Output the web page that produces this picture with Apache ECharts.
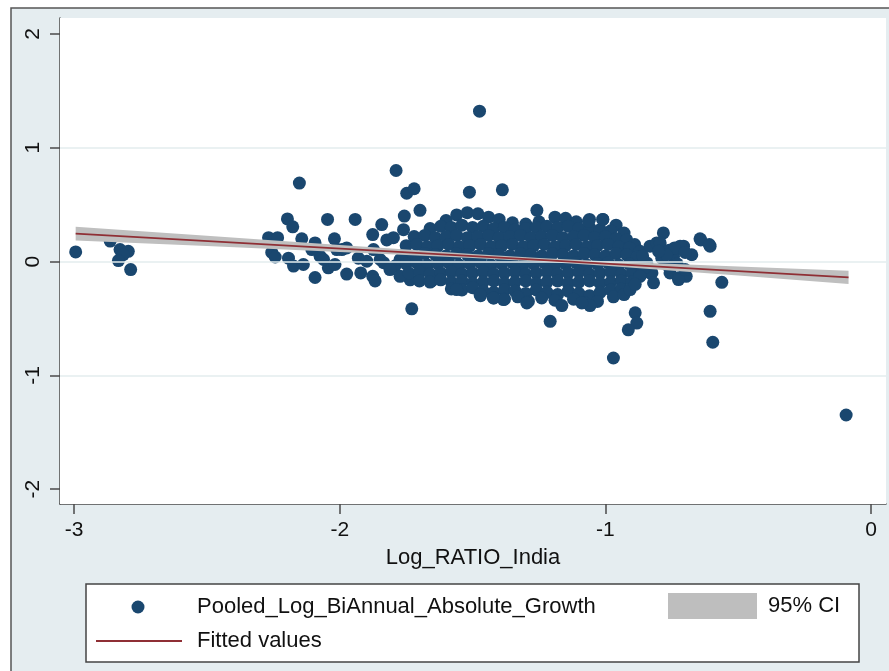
<!DOCTYPE html>
<html>
<head>
<meta charset="utf-8">
<script src="https://cdn.jsdelivr.net/npm/echarts@6/dist/echarts.min.js"></script>
<style>
html,body{margin:0;padding:0;background:#fff;}
#c{width:889px;height:671px;}
</style>
</head>
<body>
<div id="c"></div>
<script>
// ---- data ----
const xTicks = [-3, -2, -1, 0];
const yTicks = [-2, -1, 0, 1, 2];
const yGrid = [-1, 0, 1];

const farLeft = [[-2.994,0.085],[-2.864,0.18],[-2.827,0.105],[-2.796,0.09],[-2.815,0.06],[-2.833,0.009],[-2.787,-0.07]];

const leftScatter = [[-2.268,0.21],[-2.234,0.21],[-2.256,0.08],[-2.243,0.04],[-2.197,0.375],[-2.177,0.305],[-2.152,0.69],
[-2.143,0.20],[-2.093,0.164],[-2.193,0.03],[-2.174,-0.04],[-2.137,-0.026],[-2.074,0.047],[-2.043,-0.055],[-2.018,-0.026],
[-2.093,-0.14],[-2.046,0.37],[-2.02,0.20],[-1.992,0.105],[-1.974,0.12],[-1.974,-0.11],[-1.942,0.37],[-1.93,0.03],
[-1.898,0.003],[-1.921,-0.10],[-1.876,-0.13],[-1.867,-0.17],[-1.876,0.237],[-1.842,0.325],[-1.835,-0.01],[-1.792,-0.04],
[-1.823,0.19],[-1.798,0.21],[-1.757,0.40],[-1.788,0.80],[-1.748,0.60],[-1.720,0.64],[-1.698,0.45],[-1.729,-0.415],
[-1.735,-0.16],[-1.654,-0.17],[-2.105,0.105],[-2.061,0.018],[-2.011,0.105],[-1.873,0.105],[-1.848,0.018],[-1.811,-0.07],
[-1.773,0.018],[-1.76,0.28],[-1.773,-0.13]];

const mainCluster = [
[-1.60,0.36],[-1.56,0.41],[-1.52,0.43],[-1.48,0.42],[-1.44,0.39],[-1.40,0.37],[-1.35,0.34],[-1.30,0.33],[-1.25,0.35],[-1.19,0.39],[-1.15,0.38],[-1.11,0.35],[-1.06,0.37],[-1.01,0.37],[-0.96,0.32],
[-1.66,0.29],[-1.62,0.31],[-1.58,0.30],[-1.54,0.32],[-1.50,0.30],[-1.46,0.31],[-1.42,0.29],[-1.38,0.30],[-1.34,0.28],[-1.30,0.29],[-1.26,0.30],[-1.22,0.31],[-1.18,0.30],[-1.14,0.31],[-1.10,0.29],[-1.06,0.30],[-1.02,0.28],[-0.98,0.27],[-0.93,0.25],
[-1.72,0.22],[-1.68,0.23],[-1.64,0.21],[-1.60,0.22],[-1.56,0.23],[-1.52,0.21],[-1.48,0.22],[-1.44,0.23],[-1.40,0.21],[-1.36,0.22],[-1.32,0.23],[-1.28,0.21],[-1.24,0.22],[-1.20,0.23],[-1.16,0.21],[-1.12,0.22],[-1.08,0.23],[-1.04,0.21],[-1.00,0.22],[-0.96,0.20],[-0.92,0.19],[-0.89,0.15],
[-1.75,0.14],[-1.71,0.15],[-1.67,0.13],[-1.63,0.14],[-1.59,0.15],[-1.55,0.13],[-1.51,0.14],[-1.47,0.15],[-1.43,0.13],[-1.39,0.14],[-1.35,0.15],[-1.31,0.13],[-1.27,0.14],[-1.23,0.15],[-1.19,0.13],[-1.15,0.14],[-1.11,0.15],[-1.07,0.13],[-1.03,0.14],[-0.99,0.15],[-0.95,0.13],[-0.91,0.12],[-0.87,0.09],
[-1.76,0.06],[-1.72,0.05],[-1.68,0.07],[-1.64,0.06],[-1.60,0.05],[-1.56,0.07],[-1.52,0.06],[-1.48,0.05],[-1.44,0.07],[-1.40,0.06],[-1.36,0.05],[-1.32,0.07],[-1.28,0.06],[-1.24,0.05],[-1.20,0.07],[-1.16,0.06],[-1.12,0.05],[-1.08,0.07],[-1.04,0.06],[-1.00,0.05],[-0.96,0.07],[-0.92,0.06],[-0.88,0.04],
[-1.75,-0.02],[-1.71,-0.01],[-1.67,-0.03],[-1.63,-0.02],[-1.59,-0.01],[-1.55,-0.03],[-1.51,-0.02],[-1.47,-0.01],[-1.43,-0.03],[-1.39,-0.02],[-1.35,-0.01],[-1.31,-0.03],[-1.27,-0.02],[-1.23,-0.01],[-1.19,-0.03],[-1.15,-0.02],[-1.11,-0.01],[-1.07,-0.03],[-1.03,-0.02],[-0.99,-0.01],[-0.95,-0.03],[-0.91,-0.02],[-0.87,-0.04],
[-1.74,-0.10],[-1.70,-0.09],[-1.66,-0.11],[-1.62,-0.10],[-1.58,-0.09],[-1.54,-0.11],[-1.50,-0.10],[-1.46,-0.09],[-1.42,-0.11],[-1.38,-0.10],[-1.34,-0.09],[-1.30,-0.11],[-1.26,-0.10],[-1.22,-0.09],[-1.18,-0.11],[-1.14,-0.10],[-1.10,-0.09],[-1.06,-0.11],[-1.02,-0.10],[-0.98,-0.09],[-0.94,-0.11],[-0.90,-0.10],[-0.87,-0.12],
[-1.70,-0.17],[-1.66,-0.18],[-1.62,-0.16],[-1.58,-0.18],[-1.54,-0.17],[-1.50,-0.19],[-1.46,-0.18],[-1.42,-0.17],[-1.38,-0.19],[-1.34,-0.18],[-1.30,-0.17],[-1.26,-0.19],[-1.22,-0.18],[-1.18,-0.17],[-1.14,-0.19],[-1.10,-0.18],[-1.06,-0.17],[-1.02,-0.19],[-0.98,-0.18],[-0.94,-0.17],[-0.90,-0.18],
[-1.58,-0.24],[-1.54,-0.25],[-1.50,-0.23],[-1.46,-0.26],[-1.42,-0.27],[-1.38,-0.25],[-1.34,-0.26],[-1.30,-0.28],[-1.26,-0.25],[-1.22,-0.27],[-1.18,-0.29],[-1.14,-0.26],[-1.10,-0.28],[-1.06,-0.30],[-1.02,-0.27],[-0.98,-0.25],[-0.94,-0.24],
[-1.47,-0.30],[-1.42,-0.32],[-1.38,-0.33],[-1.33,-0.31],[-1.29,-0.35],[-1.24,-0.32],[-1.19,-0.34],[-1.12,-0.33],[-1.08,-0.36],[-1.03,-0.35],[-0.97,-0.31],[-0.93,-0.29]];

const rightScatter = [[-0.832,0.135],[-0.807,0.164],[-0.782,0.252],[-0.794,0.164],[-0.788,0.03],[-0.706,0.135],[-0.719,0.135],
[-0.675,0.06],[-0.744,0.047],[-0.757,-0.10],[-0.725,-0.143],[-0.696,-0.13],[-0.725,-0.158],[-0.832,-0.10],[-0.844,-0.012],
[-0.825,-0.10],[-0.819,-0.187],[-0.76,0.10],[-0.74,0.12],[-0.70,0.08],[-0.77,0.06],[-0.80,0.09],[-0.73,-0.02],[-0.76,-0.05],
[-0.70,-0.07],[-0.86,0.05],[-0.85,-0.05],[-0.87,-0.13],[-0.644,0.20],[-0.606,0.135],[-0.641,0.19],[-0.609,0.15],[-0.562,-0.182]];

const outliers = [[-1.474,1.321],[-1.512,0.61],[-1.388,0.63],[-1.258,0.45],[-1.064,0.354],[-1.01,0.37],
[-0.606,-0.437],[-0.596,-0.709],[-0.094,-1.348],[-0.97,-0.847],[-0.888,-0.45],[-0.882,-0.54],[-0.914,-0.60],
[-0.907,-0.246],[-0.888,-0.20],[-1.208,-0.525],[-1.164,-0.387],[-1.058,-0.387],[-1.089,-0.363],[-1.296,-0.363],
[-1.384,-0.334],[-1.422,-0.32],[-1.472,-0.29],[-1.56,-0.246]];

const fitX = [-2.994, -0.085];
const fitY = [0.246, -0.138];

const ciX  = [-2.994, -2.5, -2.0, -1.5, -1.25, -1.0, -0.5, -0.085];
const ciLo = [0.186, 0.136, 0.085, 0.031, 0.000, -0.037, -0.123, -0.196];
const ciHi = [0.306, 0.226, 0.145, 0.067, 0.032, 0.003, -0.043, -0.080];

const seriesName = 'Pooled_Log_BiAnnual_Absolute_Growth';
const fitName = 'Fitted values';
const ciName = '95% CI';
const xTitle = 'Log_RATIO_India';

// ---- chart ----
const FONT = '"Liberation Sans", Arial, Helvetica, sans-serif';
const points = [].concat(farLeft, leftScatter, mainCluster, rightScatter, outliers);
const ciData = ciX.map((x, i) => [x, ciLo[i], ciHi[i]]);

const chart = echarts.init(document.getElementById('c'), null, {renderer: 'canvas'});
chart.setOption({
  backgroundColor: '#ffffff',
  animation: false,
  textStyle: {fontFamily: FONT},
  grid: {left: 60, top: 18, right: 3, bottom: 167, show: true, backgroundColor: '#ffffff', borderWidth: 0, z: 1},
  xAxis: {
    type: 'value', min: -3.053, max: 0.056,
    name: xTitle, nameLocation: 'middle', nameGap: 43,
    nameTextStyle: {fontFamily: FONT, fontSize: 22, color: '#111'},
    axisLine: {show: true, onZero: false, lineStyle: {color: '#4a4a4a', width: 1.5}},
    axisTick: {show: true, length: 10, lineStyle: {color: '#4a4a4a', width: 1.5}, customValues: xTicks},
    axisLabel: {show: true, fontFamily: FONT, fontSize: 21, color: '#111', margin: 16, customValues: xTicks, formatter: v => String(v)},
    splitLine: {show: false}
  },
  yAxis: {
    type: 'value', min: -2.13, max: 2.14,
    axisLine: {show: true, onZero: false, lineStyle: {color: '#4a4a4a', width: 1.5}},
    axisTick: {show: true, length: 10, lineStyle: {color: '#4a4a4a', width: 1.5}, customValues: yTicks},
    axisLabel: {show: true, rotate: 90, fontFamily: FONT, fontSize: 21, color: '#111', margin: 16, customValues: yTicks, formatter: v => String(v)},
    splitLine: {show: false}
  },
  graphic: [
    {type: 'rect', z: -10, silent: true, shape: {x: 11, y: 8, width: 900, height: 700}, style: {fill: '#e5edf0', stroke: '#555', lineWidth: 1.5}},
    {type: 'rect', z: 10, silent: true, shape: {x: 86, y: 584, width: 773, height: 78}, style: {fill: '#fff', stroke: '#444', lineWidth: 1.5}},
    {type: 'circle', z: 11, silent: true, shape: {cx: 138, cy: 607, r: 6.5}, style: {fill: '#1a476f'}},
    {type: 'text', z: 11, silent: true, x: 197, y: 607, style: {text: seriesName, font: '22px ' + FONT, fill: '#111', verticalAlign: 'middle', align: 'left'}},
    {type: 'rect', z: 11, silent: true, shape: {x: 668, y: 593, width: 89, height: 26}, style: {fill: '#bebebe'}},
    {type: 'text', z: 11, silent: true, x: 768, y: 606, style: {text: ciName, font: '22px ' + FONT, fill: '#111', verticalAlign: 'middle', align: 'left'}},
    {type: 'line', z: 11, silent: true, shape: {x1: 96, y1: 641, x2: 182, y2: 641}, style: {stroke: '#8f2f35', lineWidth: 2}},
    {type: 'text', z: 11, silent: true, x: 197, y: 641, style: {text: fitName, font: '22px ' + FONT, fill: '#111', verticalAlign: 'middle', align: 'left'}}
  ],
  series: [
    {
      type: 'line', data: [], z: 2, silent: true, symbol: 'none',
      markLine: {silent: true, symbol: 'none', label: {show: false},
        lineStyle: {color: '#e3edee', width: 1.5, type: 'solid'},
        data: yGrid.map(v => ({yAxis: v}))}
    },
    {
      name: seriesName, type: 'scatter', z: 3, data: points, symbol: 'circle', symbolSize: 13,
      itemStyle: {color: '#1a476f', opacity: 1}
    },
    {
      name: ciName, type: 'custom', z: 4, data: ciData, silent: true,
      renderItem: function (params, api) {
        if (params.dataIndex !== 0) return null;
        const up = [], lo = [];
        for (let i = 0; i < ciData.length; i++) {
          up.push(api.coord([ciData[i][0], ciData[i][2]]));
          lo.push(api.coord([ciData[i][0], ciData[i][1]]));
        }
        return {type: 'polygon', shape: {points: up.concat(lo.reverse())}, style: {fill: '#bfbfbf'}};
      }
    },
    {
      name: fitName, type: 'line', z: 5, data: fitX.map((x, i) => [x, fitY[i]]), symbol: 'none',
      lineStyle: {color: '#8f2f35', width: 1.8}
    }
  ]
});
</script>
</body>
</html>
